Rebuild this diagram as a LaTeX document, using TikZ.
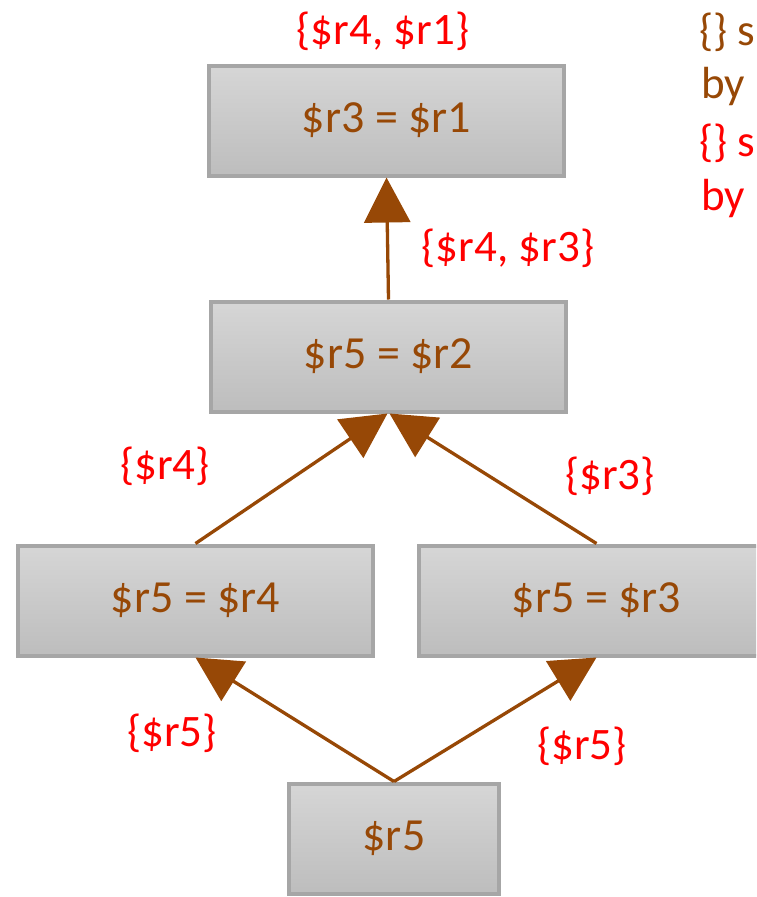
\documentclass[tikz,border=0pt]{standalone}
\usepackage{fontspec}
\setmainfont{Carlito}
\usetikzlibrary{arrows.meta}
\definecolor{brn}{HTML}{974806}
\definecolor{bord}{HTML}{A6A6A6}
\definecolor{gtop}{HTML}{D6D6D6}
\definecolor{gbot}{HTML}{BDBDBD}
\definecolor{lred}{HTML}{FF0000}
\begin{document}
\begin{tikzpicture}[x=1pt,y=-1pt,
  box/.style={draw=bord, line width=4pt, top color=gtop, bottom color=gbot,
    minimum width=#1, minimum height=110pt, inner sep=0pt,
    text=brn, font=\fontsize{46}{55}\selectfont},
  box/.default=355pt,
  lab/.style={text=lred, font=\fontsize{45}{54}\selectfont, inner sep=0pt},
  note/.style={anchor=west, font=\fontsize{45}{54}\selectfont, inner sep=0pt},
  arr/.style={draw=brn, line width=3.3pt, -{Triangle[length=45pt,width=46pt]}}]
\useasboundingbox (0,0) rectangle (756,897);
\clip (0,0) rectangle (756,897);
\node[box] (b1) at (386.5,120.5) {\$r3 = \$r1};
\node[box] (b2) at (388.5,356.5) {\$r5 = \$r2};
\node[box] (b3) at (195.5,600.5) {\$r5 = \$r4};
\node[box] (b4) at (596.5,600.5) {\$r5 = \$r3};
\node[box=210pt] (b5) at (394,838.5) {\$r5};
\draw[arr] (b2.north) -- (b1.south);
\draw[arr] (b3.north) -- ([xshift=-1pt]b2.south);
\draw[arr] (b4.north) -- ([xshift=1pt]b2.south);
\draw[arr] (b5.north) -- (b3.south);
\draw[arr] (b5.north) -- (b4.south);
\node[lab] (l1) at (383,31) {\{\$r4, \$r1\}};
\node[lab] (l2) at (508,248) {\{\$r4, \$r3\}};
\node[lab] (l3) at (165,466) {\{\$r4\}};
\node[lab] (l4) at (610,476) {\{\$r3\}};
\node[lab] (l5) at (172,733) {\{\$r5\}};
\node[lab] (l6) at (582,746) {\{\$r5\}};
\node[note, text=brn] (n1) at (699,32) {\{\} s};
\node[note, text=brn] (n2) at (701,87) {by};
\node[note, text=lred] (n3) at (699,143) {\{\} s};
\node[note, text=lred] (n4) at (701,198) {by};
\end{tikzpicture}
\end{document}
